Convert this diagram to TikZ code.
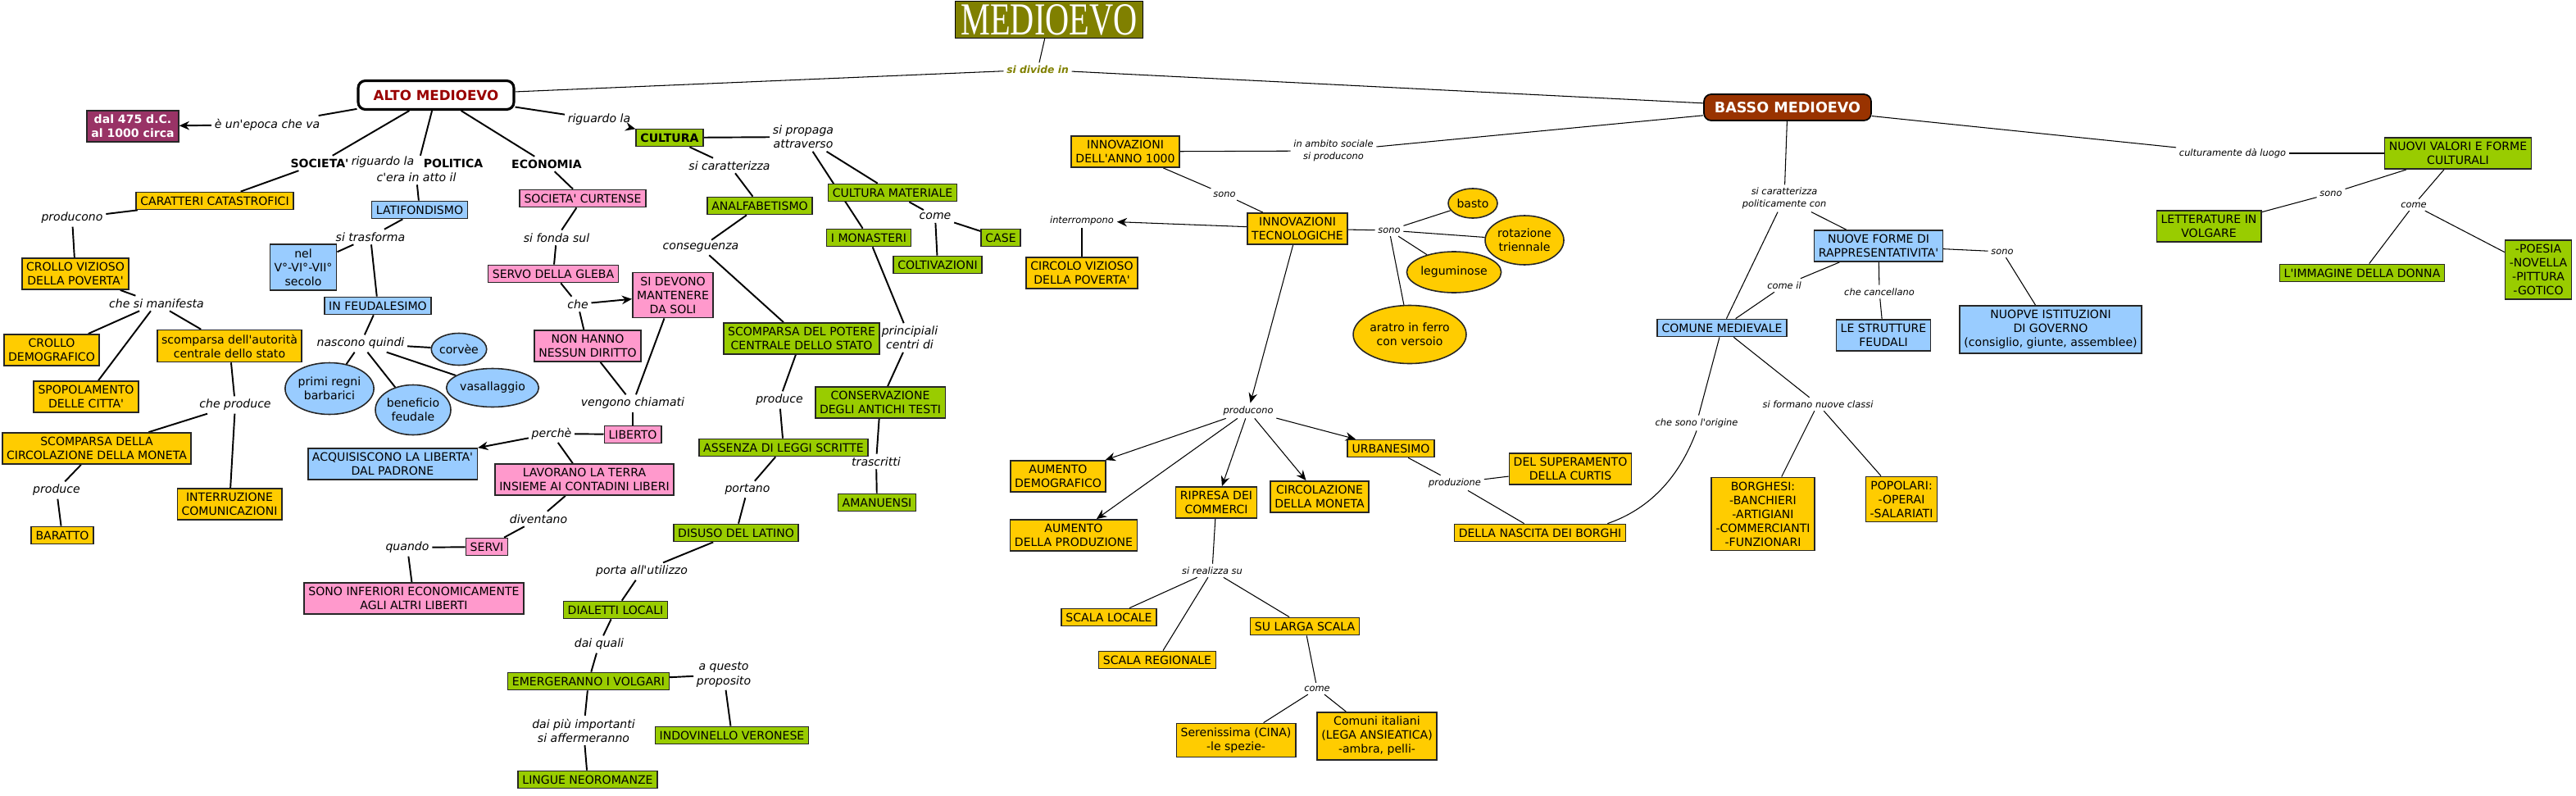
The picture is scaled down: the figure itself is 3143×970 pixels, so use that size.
\documentclass[tikz,border=0pt]{standalone}
\usepackage{fontspec}
\setmainfont{DejaVu Sans}[Ligatures=TeXOff]
\newfontfamily\titlefont{Liberation Serif}
\usepackage{xcolor}
\definecolor{mgold}{HTML}{FFCC00}
\definecolor{msky}{HTML}{99CCFF}
\definecolor{mrose}{HTML}{FF99CC}
\definecolor{mgreen}{HTML}{99CC00}
\definecolor{mplum}{HTML}{993366}
\definecolor{mrust}{HTML}{993300}
\definecolor{molive}{HTML}{808000}
\definecolor{mred}{HTML}{990000}
\usepackage{tikz}
\usetikzlibrary{shapes.geometric, arrows.meta}
\pgfdeclarelayer{bg}
\pgfsetlayers{bg,main}

\begin{document}
\begin{tikzpicture}[x=0.02cm, y=-0.02cm]

%\draw[step=100] (0,0) grid (3143,970);

\tikzstyle{box}=[
	rectangle,
	draw=black!85,
	line width=0.9pt,
	align=center,
	inner xsep=3pt,
	inner ysep=3pt,
	font=\fontsize{8}{9.7}\selectfont
]
\tikzstyle{yel}=[box, fill=mgold]
\tikzstyle{blu}=[box, fill=msky]
\tikzstyle{pnk}=[box, fill=mrose]
\tikzstyle{grn}=[box, fill=mgreen]
\tikzstyle{oval}=[
	ellipse,
	draw=black!85,
	line width=0.9pt,
	align=center,
	inner sep=0pt,
	font=\fontsize{8}{9.7}\selectfont
]
\tikzstyle{key}=[inner sep=2pt, font=\bfseries\fontsize{8}{9.7}\selectfont]
\tikzstyle{lnk}=[inner sep=2pt, align=center, font=\itshape\fontsize{8}{9.7}\selectfont]
\tikzstyle{slnk}=[inner sep=2pt, align=center, font=\itshape\fontsize{6.5}{8.2}\selectfont]
\tikzstyle{con}=[line width=1.1pt]
\tikzstyle{fine}=[line width=0.6pt]
\tikzstyle{arr}=[-{Stealth[length=7pt, width=6pt]}]

\useasboundingbox (0,0) rectangle (3143,970);

% titolo
\node[draw=black, line width=0.6pt, fill=molive, text=white, minimum width=4.58cm,
	minimum height=0.9cm, inner sep=0pt] (medioevo) at (1280,24)
	{\titlefont\resizebox{4.3cm}{0.74cm}{MEDIOEVO}};
\node[inner sep=2pt, text=molive, font=\bfseries\itshape\fontsize{7}{8}\selectfont]
	(divide) at (1266,85) {si divide in};

\node[draw=black, line width=1.8pt, rounded corners=5pt, fill=white, text=mred,
	minimum width=3.8cm, minimum height=0.7cm,
	font=\bfseries\fontsize{9.5}{11}\selectfont] (alto) at (532,116) {ALTO MEDIOEVO};
\node[draw=black, line width=1pt, rounded corners=5pt, fill=mrust, text=white,
	minimum width=4.08cm, minimum height=0.64cm,
	font=\bfseries\fontsize{10}{12}\selectfont] (basso) at (2181,131) {BASSO MEDIOEVO};

% alto medioevo
\node[box, fill=mplum, text=white, font=\bfseries\fontsize{8}{9.7}\selectfont]
	(dal) at (162,154) {dal 475 d.C.\\al 1000 circa};
\node[lnk] (epoca) at (326,152) {è un'epoca che va};
\node[key] (soc) at (390,199) {SOCIETA'};
\node[lnk] (rigsoc) at (467,198) {riguardo la};
\node[key] (pol) at (553,199) {POLITICA};
\node[lnk] (catto) at (508,216) {c'era in atto il};
\node[key] (eco) at (667,200) {ECONOMIA};

\node[yel] (cara) at (262,245) {CARATTERI CATASTROFICI};
\node[lnk] (producono1) at (88,266) {producono};
\node[yel] (crollov) at (92,334) {CROLLO VIZIOSO\\DELLA POVERTA'};
\node[lnk] (manif) at (191,370) {che si manifesta};
\node[yel] (crollod) at (63,427) {CROLLO\\DEMOGRAFICO};
\node[yel] (scompaut) at (280,422) {scomparsa dell'autorità\\centrale dello stato};
\node[yel] (spopol) at (105,484) {SPOPOLAMENTO\\DELLE CITTA'};
\node[lnk] (cheprod) at (287,494) {che produce};
\node[yel] (scompcirc) at (118,547) {SCOMPARSA DELLA\\CIRCOLAZIONE DELLA MONETA};
\node[yel] (interr) at (280,615) {INTERRUZIONE\\COMUNICAZIONI};
\node[lnk] (produce1) at (69,598) {produce};
\node[yel] (baratto) at (76,653) {BARATTO};

\node[blu] (latif) at (512,256) {LATIFONDISMO};
\node[lnk] (trasf) at (452,289) {si trasforma};
\node[blu] (nel) at (370,326) {nel\\V°-VI°-VII°\\secolo};
\node[blu] (feud) at (461,373) {IN FEUDALESIMO};
\node[lnk] (nascono) at (440,419) {nascono quindi};
\node[oval, fill=msky, minimum width=1.34cm, minimum height=0.78cm] (corvee) at (560,426) {corvèe};
\node[oval, fill=msky, minimum width=2.16cm, minimum height=1.26cm] (regni) at (402,474) {primi regni\\barbarici};
\node[oval, fill=msky, minimum width=1.84cm, minimum height=1.22cm] (benef) at (504,500) {beneficio\\feudale};
\node[oval, fill=msky, minimum width=1.98cm, minimum height=0.94cm] (vass) at (601,473) {vasallaggio};

\node[pnk] (curt) at (711,242) {SOCIETA' CURTENSE};
\node[lnk] (fonda) at (679,290) {si fonda sul};
\node[pnk] (servo) at (675,334) {SERVO DELLA GLEBA};
\node[lnk] (che) at (705,371) {che};
\node[pnk] (devono) at (821,360) {SI DEVONO\\MANTENERE\\DA SOLI};
\node[pnk] (nonhanno) at (717,422) {NON HANNO\\NESSUN DIRITTO};
\node[lnk] (chiamati) at (772,492) {vengono chiamati};
\node[pnk] (liberto) at (772,530) {LIBERTO};
\node[lnk] (perche) at (673,529) {perchè};
\node[blu] (acquis) at (479,566) {ACQUISISCONO LA LIBERTA'\\DAL PADRONE};
\node[pnk] (lavorano) at (713,585) {LAVORANO LA TERRA\\INSIEME AI CONTADINI LIBERI};
\node[lnk] (diventano) at (657,633) {diventano};
\node[pnk] (servi) at (594,667) {SERVI};
\node[lnk] (quando) at (497,668) {quando};
\node[pnk] (inferiori) at (505,730) {SONO INFERIORI ECONOMICAMENTE\\AGLI ALTRI LIBERTI};

\node[lnk] (rigcult) at (731,146) {riguardo la};
\node[grn, font=\bfseries\fontsize{8}{9.7}\selectfont] (cultura) at (817,168) {CULTURA};
\node[lnk] (propaga) at (980,167) {si propaga\\attraverso};
\node[lnk] (caratt) at (890,202) {si caratterizza};
\node[grn] (analf) at (927,251) {ANALFABETISMO};
\node[lnk] (conseg) at (855,302) {conseguenza};
\node[grn] (potere) at (978,413) {SCOMPARSA DEL POTERE\\CENTRALE DELLO STATO};
\node[lnk] (produce2) at (951,488) {produce};
\node[grn] (assenza) at (956,546) {ASSENZA DI LEGGI SCRITTE};
\node[lnk] (portano) at (912,597) {portano};
\node[grn] (disuso) at (898,650) {DISUSO DEL LATINO};
\node[lnk] (utilizzo) at (783,697) {porta all'utilizzo};
\node[grn] (dialetti) at (751,744) {DIALETTI LOCALI};
\node[lnk] (quali) at (731,786) {dai quali};
\node[grn] (emerg) at (718,831) {EMERGERANNO I VOLGARI};
\node[lnk] (proposito) at (883,823) {a questo\\proposito};
\node[grn] (indov) at (893,897) {INDOVINELLO VERONESE};
\node[lnk] (affermeranno) at (712,891) {dai più importanti\\si affermeranno};
\node[grn] (lingue) at (717,951) {LINGUE NEOROMANZE};

\node[grn] (materiale) at (1089,235) {CULTURA MATERIALE};
\node[grn] (monast) at (1060,290) {I MONASTERI};
\node[lnk] (come1) at (1141,264) {come};
\node[grn] (coltiv) at (1144,323) {COLTIVAZIONI};
\node[grn] (case) at (1221,290) {CASE};
\node[lnk] (centri) at (1110,412) {principiali\\centri di};
\node[grn] (conserv) at (1074,491) {CONSERVAZIONE\\DEGLI ANTICHI TESTI};
\node[lnk] (trascritti) at (1069,563) {trascritti};
\node[grn] (amanu) at (1070,613) {AMANUENSI};

% basso medioevo
\node[slnk] (ambito) at (1627,184) {in ambito sociale\\si producono};
\node[yel] (inn1000) at (1373,185) {INNOVAZIONI\\DELL'ANNO 1000};
\node[slnk] (sono1) at (1494,237) {sono};
\node[yel] (tecn) at (1583,279) {INNOVAZIONI\\TECNOLOGICHE};
\node[slnk] (interromp) at (1320,269) {interrompono};
\node[yel] (circolo) at (1320,333) {CIRCOLO VIZIOSO\\DELLA POVERTA'};
\node[slnk] (sono2) at (1695,281) {sono};
\node[oval, fill=mgold, minimum width=1.2cm, minimum height=0.72cm] (basto) at (1797,248) {basto};
\node[oval, fill=mgold, minimum width=1.92cm, minimum height=1.2cm] (rotaz) at (1860,293) {rotazione\\triennale};
\node[oval, fill=mgold, minimum width=2.02cm, minimum height=1cm] (legum) at (1774,332) {leguminose};
\node[oval, fill=mgold, minimum width=2.68cm, minimum height=1.42cm] (aratro) at (1720,408) {aratro in ferro\\con versoio};

\node[slnk] (producono2) at (1523,501) {producono};
\node[yel] (aumdem) at (1291,581) {AUMENTO\\DEMOGRAFICO};
\node[yel] (aumprod) at (1310,653) {AUMENTO\\DELLA PRODUZIONE};
\node[yel] (ripresa) at (1484,613) {RIPRESA DEI\\COMMERCI};
\node[yel] (circmon) at (1610,606) {CIRCOLAZIONE\\DELLA MONETA};
\node[yel] (urban) at (1697,547) {URBANESIMO};
\node[slnk] (produzione) at (1775,589) {produzione};
\node[yel] (curtis) at (1916,572) {DEL SUPERAMENTO\\DELLA CURTIS};
\node[yel] (borghi) at (1879,650) {DELLA NASCITA DEI BORGHI};
\node[slnk] (realizza) at (1479,696) {si realizza su};
\node[yel] (locale) at (1353,753) {SCALA LOCALE};
\node[yel] (regionale) at (1412,805) {SCALA REGIONALE};
\node[yel] (larga) at (1592,764) {SU LARGA SCALA};
\node[slnk] (come2) at (1607,840) {come};
\node[yel] (seren) at (1508,903) {Serenissima (CINA)\\-le spezie-};
\node[yel] (comuni) at (1680,898) {Comuni italiani\\(LEGA ANSIEATICA)\\-ambra, pelli-};

\node[slnk] (polit) at (2177,242) {si caratterizza\\politicamente con};
\node[blu] (nuove) at (2292,300) {NUOVE FORME DI\\RAPPRESENTATIVITA'};
\node[slnk] (comeil) at (2177,348) {come il};
\node[blu] (comune) at (2101,400) {COMUNE MEDIEVALE};
\node[slnk] (cancellano) at (2293,356) {che cancellano};
\node[blu] (strutture) at (2298,409) {LE STRUTTURE\\FEUDALI};
\node[slnk] (sono3) at (2443,307) {sono};
\node[blu] (istit) at (2502,402) {NUOPVE ISTITUZIONI\\DI GOVERNO\\(consiglio, giunte, assemblee)};
\node[slnk] (origine) at (2070,516) {che sono l'origine};
\node[slnk] (classi) at (2218,493) {si formano nuove classi};
\node[yel] (borghesi) at (2151,627) {BORGHESI:\\-BANCHIERI\\-ARTIGIANI\\-COMMERCIANTI\\-FUNZIONARI};
\node[yel] (popolari) at (2320,609) {POPOLARI:\\-OPERAI\\-SALARIATI};

\node[slnk] (cultluogo) at (2724,187) {culturamente dà luogo};
\node[grn] (valori) at (2999,187) {NUOVI VALORI E FORME\\CULTURALI};
\node[slnk] (sono4) at (2844,236) {sono};
\node[grn] (letter) at (2695,276) {LETTERATURE IN\\VOLGARE};
\node[slnk] (come3) at (2945,250) {come};
\node[grn] (donna) at (2882,333) {L'IMMAGINE DELLA DONNA};
\node[grn] (poesia) at (3097,329) {-POESIA\\-NOVELLA\\-PITTURA\\-GOTICO};

\begin{pgfonlayer}{bg}
\draw[fine] (medioevo) -- (divide);
\draw[fine] (divide) -- (alto);
\draw[fine] (divide) -- (basso);

\draw[con] (alto) -- (epoca);
\draw[con, arr] (epoca) -- (dal);
\draw[con] (alto) -- (soc);
\draw[con] (alto) -- (pol.north west);
\draw[con] (alto) -- (eco);
\draw[con] (alto) -- (rigcult);
\draw[con, arr] (rigcult) -- (cultura);

\draw[con] (soc) -- (cara);
\draw[con] (cara) -- (producono1);
\draw[con] (producono1) -- (crollov);
\draw[con] (crollov) -- (manif);
\draw[con] (manif) -- (crollod);
\draw[con] (manif) -- (spopol);
\draw[con] (manif) -- (scompaut);
\draw[con] (scompaut) -- (cheprod);
\draw[con] (cheprod) -- (scompcirc);
\draw[con] (cheprod) -- (interr);
\draw[con] (scompcirc) -- (produce1);
\draw[con] (produce1) -- (baratto);

\draw[con] (catto) -- (latif);
\draw[con] (latif) -- (trasf);
\draw[con] (trasf) -- (nel);
\draw[con] (trasf) -- (feud);
\draw[con] (feud) -- (nascono);
\draw[con] (nascono) -- (corvee);
\draw[con] (nascono) -- (regni);
\draw[con] (nascono) -- (benef);
\draw[con] (nascono) -- (vass);

\draw[con] (eco) -- (curt);
\draw[con] (curt) -- (fonda);
\draw[con] (fonda) -- (servo);
\draw[con] (servo) -- (che);
\draw[con, arr] (che) -- (devono);
\draw[con] (che) -- (nonhanno);
\draw[con] (nonhanno) -- (chiamati);
\draw[con] (devono) -- (chiamati);
\draw[con] (chiamati) -- (liberto);
\draw[con] (liberto) -- (perche);
\draw[con, arr] (perche) -- (acquis);
\draw[con] (perche) -- (lavorano);
\draw[con] (lavorano) -- (diventano);
\draw[con] (diventano) -- (servi);
\draw[con] (servi) -- (quando);
\draw[con] (quando) -- (inferiori);

\draw[con] (cultura) -- (propaga);
\draw[con] (cultura) -- (caratt);
\draw[con] (caratt) -- (analf);
\draw[con] (analf) -- (conseg);
\draw[con] (conseg) -- (potere);
\draw[con] (potere) -- (produce2);
\draw[con] (produce2) -- (assenza);
\draw[con] (assenza) -- (portano);
\draw[con] (portano) -- (disuso);
\draw[con] (disuso) -- (utilizzo);
\draw[con] (utilizzo) -- (dialetti);
\draw[con] (dialetti) -- (quali);
\draw[con] (quali) -- (emerg);
\draw[con] (emerg) -- (proposito);
\draw[con] (proposito) -- (indov);
\draw[con] (emerg) -- (affermeranno);
\draw[con] (affermeranno) -- (lingue);

\draw[con] (propaga) -- (materiale);
\draw[con] (propaga) -- (monast);
\draw[con] (materiale) -- (come1);
\draw[con] (come1) -- (coltiv);
\draw[con] (come1) -- (case);
\draw[con] (monast) -- (centri);
\draw[con] (centri) -- (conserv);
\draw[con] (conserv) -- (trascritti);
\draw[con] (trascritti) -- (amanu);

\draw[fine] (basso) -- (ambito);
\draw[fine] (ambito) -- (inn1000);
\draw[fine] (inn1000) -- (sono1);
\draw[fine] (sono1) -- (tecn);
\draw[fine, arr] (tecn) -- (interromp);
\draw[fine] (interromp) -- (circolo);
\draw[fine] (tecn) -- (sono2);
\draw[fine] (sono2) -- (basto);
\draw[fine] (sono2) -- (rotaz);
\draw[fine] (sono2) -- (legum);
\draw[fine] (sono2) -- (aratro);
\draw[fine, arr] (tecn) -- (producono2);
\draw[fine, arr] (producono2) -- (aumdem);
\draw[fine, arr] (producono2) -- (aumprod);
\draw[fine, arr] (producono2) -- (ripresa);
\draw[fine, arr] (producono2) -- (circmon);
\draw[fine, arr] (producono2) -- (urban);
\draw[fine] (urban) -- (produzione);
\draw[fine] (produzione) -- (curtis);
\draw[fine] (produzione) -- (borghi);
\draw[fine] (ripresa) -- (realizza);
\draw[fine] (realizza) -- (locale);
\draw[fine] (realizza) -- (regionale);
\draw[fine] (realizza) -- (larga);
\draw[fine] (larga) -- (come2);
\draw[fine] (come2) -- (seren);
\draw[fine] (come2) -- (comuni);

\draw[fine] (basso) -- (polit);
\draw[fine] (polit) -- (nuove);
\draw[fine] (polit) -- (comune);
\draw[fine] (nuove) -- (comeil);
\draw[fine] (comeil) -- (comune);
\draw[fine] (nuove) -- (cancellano);
\draw[fine] (cancellano) -- (strutture);
\draw[fine] (nuove) -- (sono3);
\draw[fine] (sono3) -- (istit);
\draw[fine] (comune) -- (origine);
\draw[fine] (origine.south) .. controls (2048,585) and (2010,622) ..
	([xshift=-0.46cm]borghi.north east);
\draw[fine] (comune) -- (classi);
\draw[fine] (classi) -- (borghesi);
\draw[fine] (classi) -- (popolari);

\draw[fine] (basso) -- (cultluogo);
\draw[fine] (cultluogo) -- (valori);
\draw[fine] (valori) -- (sono4);
\draw[fine] (sono4) -- (letter);
\draw[fine] (valori) -- (come3);
\draw[fine] (come3) -- (donna);
\draw[fine] (come3) -- (poesia);
\end{pgfonlayer}

\end{tikzpicture}
\end{document}
